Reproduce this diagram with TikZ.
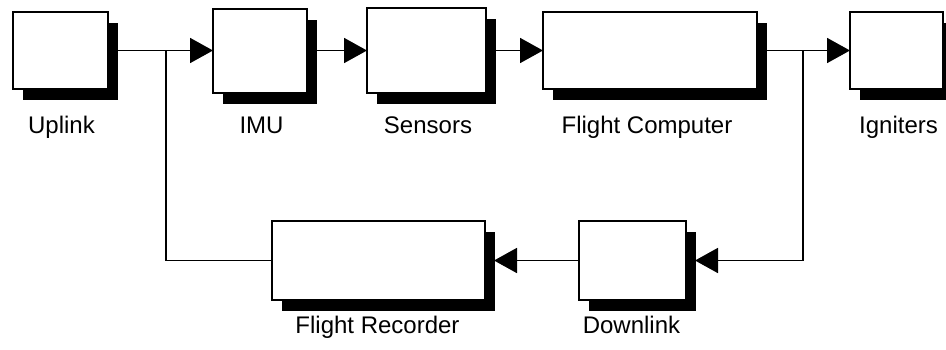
\documentclass[tikz,border=0pt]{standalone}
\usepackage{fontspec}
\setmainfont{Liberation Sans}
\usetikzlibrary{arrows.meta,shadows}

\tikzset{
  blk/.style={draw, line width=2pt, fill=white, inner sep=0pt, outer sep=0pt,
    drop shadow={shadow xshift=10pt, shadow yshift=-11pt, fill=black, opacity=1}},
  lbl/.style={anchor=base, inner sep=0pt, font=\fontsize{24}{28}\selectfont},
  wire/.style={line width=1.8pt},
  arr/.style={wire, -{Triangle[length=23pt,width=25pt]}}
}

\begin{document}
\begin{tikzpicture}[x=1pt, y=-1pt]
            \useasboundingbox (0,0) rectangle (946,349);

            %boxes
            \node (uplink) at (60.5,50.5) [blk, minimum width=95pt, minimum height=77pt] {};
            \node (imu) at (260,50.5) [blk, minimum width=94pt, minimum height=84pt] {};
            \node (sensors) at (426.5,50.5) [blk, minimum width=119pt, minimum height=85pt] {};
            \node (fc) at (650,50.5) [blk, minimum width=214pt, minimum height=77pt] {};
            \node (ign) at (896.5,50.5) [blk, minimum width=93pt, minimum height=77pt] {};
            \node (fr) at (378.5,260.5) [blk, minimum width=213pt, minimum height=79pt] {};
            \node (dl) at (632.5,260.5) [blk, minimum width=107pt, minimum height=79pt] {};

            %labels
            \node (uplinklbl) at (61.5,133) [lbl] {Uplink};
            \node (imulbl) at (261.5,133) [lbl] {IMU};
            \node (sensorslbl) at (428,133) [lbl] {Sensors};
            \node (fclbl) at (647,133) [lbl] {Flight Computer};
            \node (ignlbl) at (898.5,133) [lbl] {Igniters};
            \node (frlbl) at (377.5,333) [lbl] {Flight Recorder};
            \node (dllbl) at (631.5,333) [lbl] {Downlink};

            %junctions
            \coordinate (j1) at (166,50.5);
            \coordinate (j2) at (803,50.5);

            %arrows
            \draw[arr] (uplink.east) -- (imu.west);
            \draw[arr] (imu.east) -- (sensors.west);
            \draw[arr] (sensors.east) -- (fc.west);
            \draw[arr] (fc.east) -- (ign.west);
            \draw[arr] (j2) |- ([xshift=9pt]dl.east);
            \draw[arr] (dl.west) -- ([xshift=9pt]fr.east);
            \draw[wire] (fr.west) -| (j1);

    \end{tikzpicture}
\end{document}
